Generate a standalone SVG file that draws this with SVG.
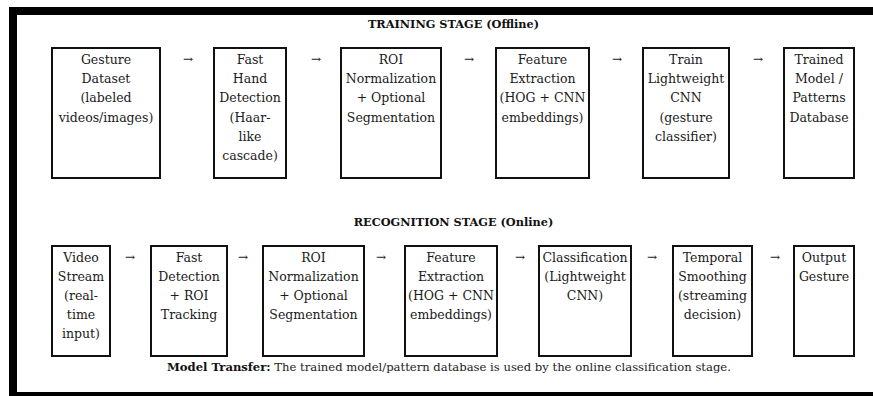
<svg xmlns="http://www.w3.org/2000/svg" width="873" height="396" viewBox="0 0 873 396">
<style>
.frame{fill:none;stroke:#000;stroke-width:8}
.box{fill:#fff;stroke:#111;stroke-width:2}
.t{font-family:"DejaVu Serif","Liberation Serif",serif;font-size:12.5px;fill:#1a1a1a;text-anchor:middle}
.h{font-family:"DejaVu Serif","Liberation Serif",serif;font-size:11.3px;font-weight:bold;fill:#111;text-anchor:middle}
.a{font-family:"DejaVu Serif","Liberation Serif",serif;font-size:12px;fill:#222;text-anchor:middle}
.n{font-family:"DejaVu Serif","Liberation Serif",serif;font-size:11.6px;fill:#1a1a1a}
</style>
<rect width="873" height="396" fill="#fff"/>
<rect class="frame" x="13" y="11" width="880" height="385"/>
<text class="h" x="453.5" y="28">TRAINING STAGE (Offline)</text>
<text class="h" x="453.5" y="226">RECOGNITION STAGE (Online)</text>

<g id="t1"><rect class="box" x="52" y="48" width="108" height="130"/>
<text class="t" y="64"><tspan x="106">Gesture</tspan><tspan x="106" dy="19.2">Dataset</tspan><tspan x="106" dy="19.2">(labeled</tspan><tspan x="106" dy="19.2">videos/images)</tspan></text></g>
<g id="t2"><rect class="box" x="214" y="48" width="72" height="130"/>
<text class="t" y="64"><tspan x="250">Fast</tspan><tspan x="250" dy="19.2">Hand</tspan><tspan x="250" dy="19.2">Detection</tspan><tspan x="250" dy="19.2">(Haar-</tspan><tspan x="250" dy="19.2">like</tspan><tspan x="250" dy="19.2">cascade)</tspan></text></g>
<g id="t3"><rect class="box" x="341" y="48" width="100" height="130"/>
<text class="t" y="64"><tspan x="391">ROI</tspan><tspan x="391" dy="19.2">Normalization</tspan><tspan x="391" dy="19.2">+ Optional</tspan><tspan x="391" dy="19.2">Segmentation</tspan></text></g>
<g id="t4"><rect class="box" x="496" y="48" width="93" height="130"/>
<text class="t" y="64"><tspan x="542.5">Feature</tspan><tspan x="542.5" dy="19.2">Extraction</tspan><tspan x="542.5" dy="19.2">(HOG + CNN</tspan><tspan x="542.5" dy="19.2">embeddings)</tspan></text></g>
<g id="t5"><rect class="box" x="643" y="48" width="86" height="130"/>
<text class="t" y="64"><tspan x="686">Train</tspan><tspan x="686" dy="19.2">Lightweight</tspan><tspan x="686" dy="19.2">CNN</tspan><tspan x="686" dy="19.2">(gesture</tspan><tspan x="686" dy="19.2">classifier)</tspan></text></g>
<g id="t6"><rect class="box" x="784" y="48" width="70" height="130"/>
<text class="t" y="64"><tspan x="819">Trained</tspan><tspan x="819" dy="19.2">Model /</tspan><tspan x="819" dy="19.2">Patterns</tspan><tspan x="819" dy="19.2">Database</tspan></text></g>

<g id="r1"><rect class="box" x="52" y="246" width="58" height="110"/>
<text class="t" y="262"><tspan x="81">Video</tspan><tspan x="81" dy="19">Stream</tspan><tspan x="81" dy="19">(real-</tspan><tspan x="81" dy="19">time</tspan><tspan x="81" dy="19">input)</tspan></text></g>
<g id="r2"><rect class="box" x="151" y="246" width="76" height="110"/>
<text class="t" y="262"><tspan x="189">Fast</tspan><tspan x="189" dy="19">Detection</tspan><tspan x="189" dy="19">+ ROI</tspan><tspan x="189" dy="19">Tracking</tspan></text></g>
<g id="r3"><rect class="box" x="263" y="246" width="101" height="110"/>
<text class="t" y="262"><tspan x="313.5">ROI</tspan><tspan x="313.5" dy="19">Normalization</tspan><tspan x="313.5" dy="19">+ Optional</tspan><tspan x="313.5" dy="19">Segmentation</tspan></text></g>
<g id="r4"><rect class="box" x="405" y="246" width="92" height="110"/>
<text class="t" y="262"><tspan x="451">Feature</tspan><tspan x="451" dy="19">Extraction</tspan><tspan x="451" dy="19">(HOG + CNN</tspan><tspan x="451" dy="19">embeddings)</tspan></text></g>
<g id="r5"><rect class="box" x="539" y="246" width="92" height="110"/>
<text class="t" y="262"><tspan x="585">Classification</tspan><tspan x="585" dy="19">(Lightweight</tspan><tspan x="585" dy="19">CNN)</tspan></text></g>
<g id="r6"><rect class="box" x="673" y="246" width="79" height="110"/>
<text class="t" y="262"><tspan x="712.5">Temporal</tspan><tspan x="712.5" dy="19">Smoothing</tspan><tspan x="712.5" dy="19">(streaming</tspan><tspan x="712.5" dy="19">decision)</tspan></text></g>
<g id="r7"><rect class="box" x="794" y="246" width="60" height="110"/>
<text class="t" y="262"><tspan x="824">Output</tspan><tspan x="824" dy="19">Gesture</tspan></text></g>

<g id="connectors">
<text class="a" x="188" y="63">→</text>
<text class="a" x="316" y="63">→</text>
<text class="a" x="469" y="63">→</text>
<text class="a" x="617" y="63">→</text>
<text class="a" x="758" y="63">→</text>
<text class="a" x="130" y="261">→</text>
<text class="a" x="243" y="261">→</text>
<text class="a" x="381" y="261">→</text>
<text class="a" x="520" y="261">→</text>
<text class="a" x="652" y="261">→</text>
<text class="a" x="775" y="261">→</text>
</g>

<text class="n" x="167" y="371"><tspan font-weight="bold" fill="#111">Model Transfer:</tspan> The trained model/pattern database is used by the online classification stage.</text>
</svg>
